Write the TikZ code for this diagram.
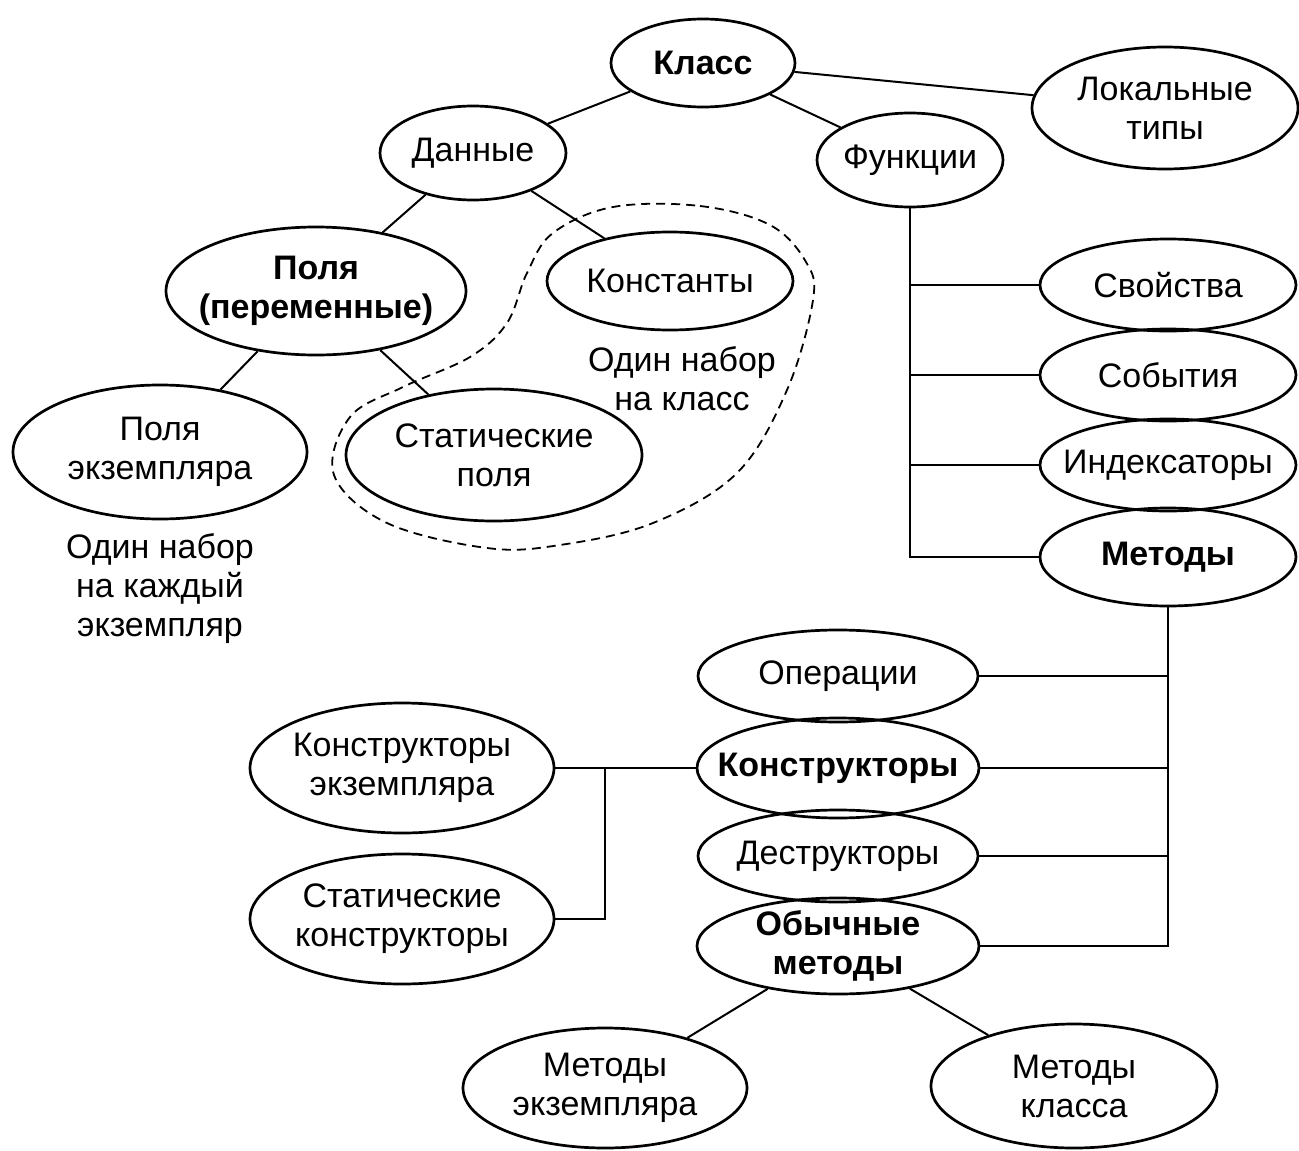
\documentclass[tikz,border=0pt]{standalone}
\usepackage{fontspec}
\setmainfont{Liberation Sans}
\usetikzlibrary{shapes.geometric}
\begin{document}
\begin{tikzpicture}[x=1pt,y=-1pt,
  el/.style={ellipse, draw, line width=2.7pt, inner xsep=-50pt, inner ysep=-14pt, align=center,
             font=\fontsize{34}{39}\selectfont},
  conn/.style={line width=2pt},
  lbl/.style={align=center, inner sep=0pt, font=\fontsize{34}{39}\selectfont},
  enc/.style={line width=1.8pt, dash pattern=on 9pt off 6pt}]
\useasboundingbox (0,0) rectangle (1299,1151);

% top level
\node[el, minimum width=184pt, minimum height=88pt] (klass) at (703,63) {\bfseries Класс};
\node[el, minimum width=186pt, minimum height=94pt] (dan) at (473,153) {Данные};
\node[el, minimum width=186pt, minimum height=94pt] (fun) at (910,160) {Функции};
\node[el, minimum width=266pt, minimum height=122pt] (lok) at (1165,108) {Локальные\\типы};

% data branch
\node[el, minimum width=300pt, minimum height=128pt] (pol) at (316,291) {\bfseries Поля\\\bfseries (переменные)};
\node[el, minimum width=246pt, minimum height=98pt] (kon) at (670,281) {Константы};
\node[el, minimum width=294pt, minimum height=134pt] (pe) at (160,452) {Поля\\экземпляра};
\node[el, minimum width=296pt, minimum height=132pt] (sp) at (494,455) {Статические\\поля};

\node[lbl] (t1) at (682,379) {Один набор\\на класс};
\node[lbl] (t2) at (160,589) {Один набор\\на каждый\\экземпляр};

% function branch
\node[el, minimum width=256pt, minimum height=92pt] (svo) at (1168,285) {Свойства};
\node[el, minimum width=256pt, minimum height=92pt] (sob) at (1168,375) {События};
\node[el, minimum width=256pt, minimum height=92pt] (ind) at (1168,465) {Индексаторы};
\node[el, minimum width=256pt, minimum height=98pt] (met) at (1168,557) {\bfseries Методы};

% methods branch
\node[el, minimum width=280pt, minimum height=92pt] (op) at (838,676) {Операции};
\node[el, minimum width=282pt, minimum height=100pt] (kstr) at (838,768) {\bfseries Конструкторы};
\node[el, minimum width=280pt, minimum height=92pt] (dstr) at (838,856) {Деструкторы};
\node[el, minimum width=282pt, minimum height=96pt] (obm) at (838,946) {\bfseries Обычные\\\bfseries методы};

\node[el, minimum width=304pt, minimum height=130pt] (ke) at (402,768) {Конструкторы\\экземпляра};
\node[el, minimum width=304pt, minimum height=130pt] (sk) at (402,919) {Статические\\конструкторы};

\node[el, minimum width=284pt, minimum height=120pt] (me) at (605,1088) {Методы\\экземпляра};
\node[el, minimum width=286pt, minimum height=124pt] (mk) at (1074,1086) {Методы\\класса};

% connectors
\draw[conn] (klass) -- (dan);
\draw[conn] (klass) -- (fun);
\draw[conn] (klass) -- (lok);
\draw[conn] (dan) -- (pol);
\draw[conn] (dan) -- (kon);
\draw[conn] (pol) -- (pe);
\draw[conn] (pol) -- (sp);

\draw[conn] (fun.south) |- (svo.west);
\draw[conn] (fun.south) |- (sob.west);
\draw[conn] (fun.south) |- (ind.west);
\draw[conn] (fun.south) |- (met.west);

\draw[conn] (met.south) |- (op.east);
\draw[conn] (met.south) |- (kstr.east);
\draw[conn] (met.south) |- (dstr.east);
\draw[conn] (met.south) |- (obm.east);

\coordinate (jn) at (605,768);
\draw[conn] (ke.east) -- (kstr.west);
\draw[conn] (sk.east) -| (jn);

\draw[conn] (obm) -- (me);
\draw[conn] (obm) -- (mk);

% dashed enclosure
\draw[enc] plot[smooth cycle, tension=0.6] coordinates {
  (613,207) (700,206) (770,225) (806,262) (813,300) (787,390) (737,473)
  (653,523) (560,545) (487,548) (387,523) (334,475) (350,417) (403,387)
  (470,357) (507,323) (527,273) (553,233)};
\end{tikzpicture}
\end{document}
